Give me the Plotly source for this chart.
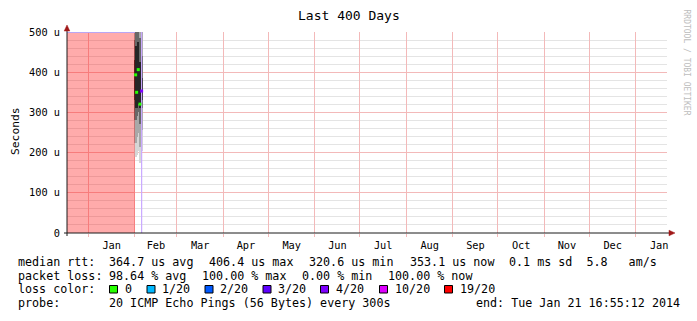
import plotly.graph_objects as go
from datetime import datetime, timedelta

# ---------------- data ----------------
end_time = datetime(2014, 1, 21, 16, 55, 12)
start_time = end_time - timedelta(days=400)

# period with 100 % loss (red background)
loss_period = [start_time, datetime(2013, 2, 1, 0, 0)]
loss_level = [500, 500]          # microseconds (full height)

# smoke columns (microseconds)
smoke_times = [datetime(2013, 2, 1, 11), datetime(2013, 2, 2, 3), datetime(2013, 2, 3, 5),
               datetime(2013, 2, 4, 8), datetime(2013, 2, 5, 11)]
smoke_l1_lo = [190, 195, 205, 175, 205]
smoke_l1_hi = [520, 520, 520, 520, 520]
smoke_l2_lo = [225, 240, 250, 215, 255]
smoke_l2_hi = [520, 520, 520, 520, 500]
smoke_l3_lo = [280, 290, 300, 270, 310]
smoke_l3_hi = [480, 510, 510, 485, 440]
smoke_l4_lo = [330, 310, 320, 310, 330]
smoke_l4_hi = [430, 465, 475, 425, 385]

# median rtt (microseconds) and loss colour per column
median_rtt = [393.4, 350.0, 406.4, 320.6, 353.1]
median_col = ["#26ff00", "#26ff00", "#26ff00", "#26ff00", "#7e00ff"]

# last-update vertical marker
marker_time = [datetime(2013, 2, 5, 11), datetime(2013, 2, 5, 11)]
marker_level = [0, 500]

y_ticks = [0, 100, 200, 300, 400, 500]
y_ticktext = ["0", "100 u", "200 u", "300 u", "400 u", "500 u"]

loss_labels = ["0", "1/20", "2/20", "3/20", "4/20", "10/20", "19/20"]
loss_colors = ["#26ff00", "#00b8ff", "#0059ff", "#5e00ff", "#7e00ff", "#dd00ff", "#ff0000"]

row1 = [("median rtt:", 16), ("364.7 us avg", 107), ("406.4 us max", 207),
        ("320.6 us min", 307), ("353.1 us now", 408), ("0.1 ms sd  5.8   am/s", 507)]
row2 = [("packet loss:", 16), ("98.64 % avg", 107), ("100.00 % max", 200),
        ("0.00 % min", 300), ("100.00 % now", 386)]
row4 = [("probe:", 16), ("20 ICMP Echo Pings (56 Bytes) every 300s", 107)]
end_text = "end: Tue Jan 21 16:55:12 2014"

# ---------------- geometry helpers ----------------
L, R, T, B = 67, 667, 32, 233
def px(x):
    return (x - L) / (R - L)
def py(y):
    return (B - y) / (B - T)

MONO = "DejaVu Sans Mono"
def nb(s):
    return s.replace(" ", "\u00a0")

fig = go.Figure()

# red loss background
fig.add_trace(go.Scatter(x=loss_period, y=loss_level, mode="lines", fill="tozeroy",
                         fillcolor="rgba(255,0,0,0.33)", line=dict(color="rgba(0,0,0,0)", width=0),
                         hoverinfo="skip", showlegend=False))
fig.add_trace(go.Scatter(x=loss_period, y=[v - 0.8 for v in loss_level], mode="lines",
                         line=dict(color="#b9a6f4", width=1.2), hoverinfo="skip", showlegend=False))
# vertical marker line
fig.add_trace(go.Scatter(x=marker_time, y=marker_level, mode="lines",
                         line=dict(color="#c9a9ff", width=1.2), hoverinfo="skip", showlegend=False))

# smoke
bar_w = 1.25 * 86400000
for lo, hi, col in [(smoke_l1_lo, smoke_l1_hi, "#d6d6d6"),
                    (smoke_l2_lo, smoke_l2_hi, "#a8a8a8"),
                    (smoke_l3_lo, smoke_l3_hi, "#686868"),
                    (smoke_l4_lo, smoke_l4_hi, "#262626")]:
    fig.add_trace(go.Bar(x=smoke_times, base=lo, y=[h - l for l, h in zip(lo, hi)],
                         width=[bar_w] * len(lo), marker=dict(color=col, line=dict(width=0)),
                         hoverinfo="skip", showlegend=False))

# median markers
fig.add_trace(go.Scatter(x=smoke_times, y=median_rtt, mode="markers",
                         marker=dict(symbol="square", size=3, color=median_col, line=dict(width=0)),
                         hoverinfo="skip", showlegend=False))

shapes = []
# axis lines and arrows
shapes.append(dict(type="line", xref="paper", yref="paper", x0=px(64), x1=px(670), y0=0, y1=0,
                   line=dict(color="#1a1a1a", width=1)))
shapes.append(dict(type="line", xref="paper", yref="paper", x0=0, x1=0, y0=py(236), y1=py(28),
                   line=dict(color="#1a1a1a", width=1)))
shapes.append(dict(type="path", xref="paper", yref="paper",
                   path=f"M {px(67)} {py(25)} L {px(64.2)} {py(31)} L {px(69.8)} {py(31)} Z",
                   fillcolor="#a01818", line=dict(color="#a01818", width=0.5)))
shapes.append(dict(type="path", xref="paper", yref="paper",
                   path=f"M {px(675)} {py(233)} L {px(669)} {py(230.2)} L {px(669)} {py(235.8)} Z",
                   fillcolor="#a01818", line=dict(color="#a01818", width=0.5)))

annotations = []
annotations.append(dict(text="Last 400 Days", xref="paper", yref="paper", x=px(348.5), y=py(16),
                        xanchor="center", yanchor="middle", showarrow=False,
                        font=dict(family=MONO, size=13, color="#000")))
annotations.append(dict(text="Seconds", xref="paper", yref="paper", x=px(15), y=py(131),
                        xanchor="center", yanchor="middle", showarrow=False, textangle=-90,
                        font=dict(family=MONO, size=11.3, color="#000")))
annotations.append(dict(text=nb("RRDTOOL / TOBI OETIKER"), xref="paper", yref="paper", x=px(686.5), y=py(62),
                        xanchor="center", yanchor="middle", showarrow=False, textangle=90,
                        font=dict(family=MONO, size=8, color="#bdbdbd")))

LF = dict(family=MONO, size=11.7, color="#000")
for row, yy in [(row1, 262), (row2, 275.5), (row4, 303)]:
    for txt, xx in row:
        annotations.append(dict(text=nb(txt), xref="paper", yref="paper", x=px(xx), y=py(yy),
                                xanchor="left", yanchor="middle", showarrow=False, font=LF))
annotations.append(dict(text=nb(end_text), xref="paper", yref="paper", x=px(681.5), y=py(303),
                        xanchor="right", yanchor="middle", showarrow=False, font=LF))
annotations.append(dict(text=nb("loss color:"), xref="paper", yref="paper", x=px(16), y=py(289),
                        xanchor="left", yanchor="middle", showarrow=False, font=LF))
sq_x = [109.5, 147, 205, 263, 320.5, 379.5, 444.5]
for sx, lab, col in zip(sq_x, loss_labels, loss_colors):
    shapes.append(dict(type="rect", xref="paper", yref="paper", x0=px(sx), x1=px(sx + 8),
                       y0=py(293), y1=py(285.5), fillcolor=col, line=dict(color="#000", width=1)))
    annotations.append(dict(text=lab, xref="paper", yref="paper", x=px(sx + 13), y=py(289),
                            xanchor="left", yanchor="middle", showarrow=False, font=LF))

fig.update_layout(
    width=697, height=321,
    margin=dict(l=L, r=697 - R, t=T, b=321 - B),
    paper_bgcolor="#ffffff", plot_bgcolor="#ffffff",
    barmode="overlay", bargap=0,
    showlegend=False,
    shapes=shapes, annotations=annotations,
    xaxis=dict(type="date", range=[start_time, end_time], tick0="2013-01-01", dtick="M1",
               tickformat="%b", ticklabelmode="period", showgrid=True, gridcolor="#f3b9b9", gridwidth=1,
               ticks="outside", ticklen=3, tickcolor="#f3b9b9", zeroline=False, showline=False,
               tickfont=dict(family=MONO, size=10.3, color="#000")),
    yaxis=dict(range=[0, 500], tickvals=y_ticks, ticktext=y_ticktext, showgrid=True,
               gridcolor="#f3b9b9", gridwidth=1, zeroline=False, showline=False, ticks="",
               ticklabelstandoff=6,
               minor=dict(dtick=20, showgrid=True, gridcolor="#e4e4e4", gridwidth=1),
               tickfont=dict(family=MONO, size=10.3, color="#000")),
)

fig.write_html("out.html")
